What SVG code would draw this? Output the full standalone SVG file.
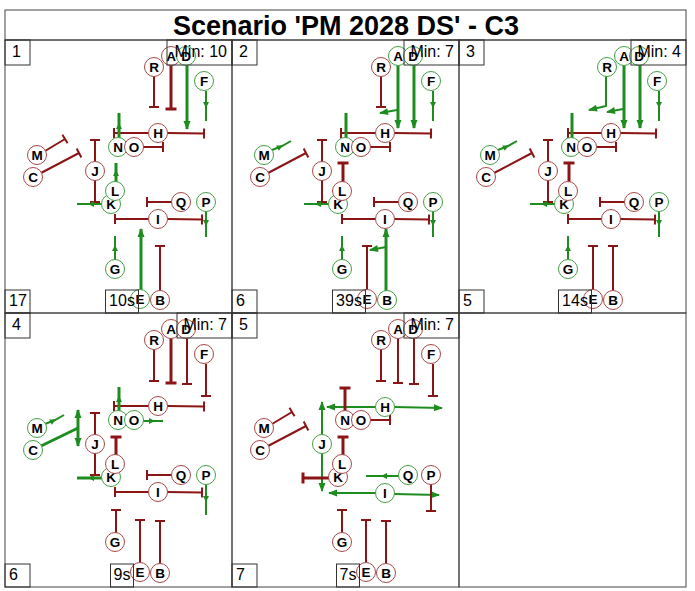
<svg xmlns="http://www.w3.org/2000/svg" width="695" height="591" viewBox="0 0 695 591">
<style>
text{font-family:"Liberation Sans",Arial,sans-serif}
.title{font-size:27px;font-weight:bold;text-anchor:middle;fill:#000}
.lbl{font-size:16px;fill:#000}
.frame{fill:none;stroke:#444;stroke-width:1}
.box{fill:none;stroke:#333;stroke-width:1}
.r{stroke:#8B1515;stroke-width:2;fill:none}
.g{stroke:#1E8C1E;stroke-width:2;fill:none}
.tk{stroke-width:3}
.tT{marker-end:url(#tT)}
.tK{marker-end:url(#tK)}
.ae{marker-end:url(#ae)}
.am{marker-mid:url(#am)}
.nd circle{r:9.5px}
.nr circle{fill:#fff;stroke:#A84848;stroke-width:1}
.ng circle{fill:#fff;stroke:#45A045;stroke-width:1}
.nd text{font-size:13.5px;font-weight:bold;text-anchor:middle;fill:#000}
</style>
<defs>
<marker id="tT" markerUnits="userSpaceOnUse" viewBox="-3 -6 6 12" markerWidth="6" markerHeight="12" refX="0" refY="0" orient="auto"><path d="M0,-5V5" stroke="#8B1515" stroke-width="2"/></marker>
<marker id="tK" markerUnits="userSpaceOnUse" viewBox="-3 -6 6 12" markerWidth="6" markerHeight="12" refX="0" refY="0" orient="auto"><path d="M0,-5.5V5.5" stroke="#8B1515" stroke-width="3"/></marker>
<marker id="ae" markerUnits="userSpaceOnUse" viewBox="-9 -5 10 10" markerWidth="10" markerHeight="10" refX="0" refY="0" orient="auto"><path d="M-8,-3.5L1,0L-8,3.5z" fill="#1E8C1E"/></marker>
<marker id="am" markerUnits="userSpaceOnUse" viewBox="-7 -4 8 8" markerWidth="8" markerHeight="8" refX="0" refY="0" orient="auto"><path d="M-5,-3L1,0L-5,3z" fill="#1E8C1E"/></marker>
</defs>

<g id="frames">
<rect class="frame" x="5" y="10" width="681" height="30"/>
<rect class="frame" x="5" y="40" width="227" height="273"/>
<rect class="frame" x="232" y="40" width="227" height="273"/>
<rect class="frame" x="459" y="40" width="227" height="273"/>
<rect class="frame" x="5" y="313" width="227" height="274"/>
<rect class="frame" x="232" y="313" width="227" height="274"/>
<rect class="frame" x="459" y="313" width="227" height="274"/>
</g>
<text class="title" x="346" y="35">Scenario 'PM 2028 DS' - C3</text>

<!-- PANEL 1 -->
<g id="panel1">
<g id="p1-edges">
<line class="r tT" x1="154" y1="76" x2="154" y2="107"/>
<line class="r tk tK" x1="171" y1="65" x2="171" y2="109"/>
<line class="g tk ae" x1="187" y1="65" x2="187" y2="129"/>
<polyline class="g am" points="206,91 206,107 206,121"/>
<line class="r tT" x1="149" y1="133" x2="114" y2="133"/>
<line class="r tT" x1="167" y1="133" x2="204" y2="133.5"/>
<polyline class="g tk am" points="119,138 119,124 119,113"/>
<line class="r tT" x1="143" y1="147" x2="163" y2="147"/>
<line class="r tT" x1="45" y1="151" x2="65" y2="139"/>
<line class="r tT" x1="41" y1="173" x2="79" y2="153"/>
<line class="r tT" x1="95" y1="162" x2="95" y2="140"/>
<line class="r tT" x1="95" y1="180" x2="95" y2="202"/>
<polyline class="g tk am" points="116,182 116,171 116,163"/>
<polyline class="g am" points="102,204 89,204 77,204"/>
<line class="r tT" x1="172" y1="202" x2="147" y2="202"/>
<line class="r tT" x1="149" y1="219" x2="115" y2="219"/>
<line class="r tT" x1="167" y1="219" x2="202" y2="219.5"/>
<polyline class="g am" points="206,211 206,225 206,237"/>
<polyline class="g am" points="115,260 115,246 115,236"/>
<line class="g tk ae" x1="141" y1="290" x2="141" y2="229"/>
<line class="r tT" x1="160" y1="291" x2="160" y2="246"/>
</g>
<g id="p1-R" class="nd nr"><circle cx="154" cy="67" r="9"/><text x="154" y="71.5">R</text></g>
<g id="p1-A" class="nd nr"><circle cx="171" cy="56" r="9"/><text x="171" y="60.5">A</text></g>
<g id="p1-D" class="nd ng"><circle cx="186" cy="56" r="9"/><text x="186" y="60.5">D</text></g>
<g id="p1-F" class="nd ng"><circle cx="204" cy="81" r="9"/><text x="204" y="85.5">F</text></g>
<g id="p1-H" class="nd nr"><circle cx="158" cy="133" r="9"/><text x="158" y="137.5">H</text></g>
<g id="p1-N" class="nd ng"><circle cx="118" cy="147" r="9"/><text x="118" y="151.5">N</text></g>
<g id="p1-O" class="nd nr"><circle cx="134" cy="147" r="9"/><text x="134" y="151.5">O</text></g>
<g id="p1-M" class="nd nr"><circle cx="37" cy="155" r="9"/><text x="37" y="159.5">M</text></g>
<g id="p1-C" class="nd nr"><circle cx="33" cy="177" r="9"/><text x="33" y="181.5">C</text></g>
<g id="p1-J" class="nd nr"><circle cx="95" cy="171" r="9"/><text x="95" y="175.5">J</text></g>
<g id="p1-K" class="nd ng"><circle cx="111" cy="204" r="9"/><text x="111" y="208.5">K</text></g>
<g id="p1-L" class="nd ng"><circle cx="115" cy="191" r="9"/><text x="115" y="195.5">L</text></g>
<g id="p1-Q" class="nd nr"><circle cx="181" cy="202" r="9"/><text x="181" y="206.5">Q</text></g>
<g id="p1-P" class="nd ng"><circle cx="206" cy="202" r="9"/><text x="206" y="206.5">P</text></g>
<g id="p1-I" class="nd nr"><circle cx="158" cy="219" r="9"/><text x="158" y="223.5">I</text></g>
<g id="p1-G" class="nd ng"><circle cx="115" cy="269" r="9"/><text x="115" y="273.5">G</text></g>
<g id="p1-E" class="nd ng"><circle cx="140" cy="299" r="9"/><text x="140" y="303.5">E</text></g>
<g id="p1-B" class="nd nr"><circle cx="160" cy="300" r="9"/><text x="160" y="304.5">B</text></g>
<g id="p1-labels">
<rect class="box" x="5" y="40" width="25" height="25"/><text class="lbl" x="12" y="57">1</text>
<rect class="box" x="167" y="40" width="65" height="25"/><text class="lbl" x="227" y="57" text-anchor="end">Min: 10</text>
<rect class="box" x="5" y="290" width="25" height="23"/><text class="lbl" x="9" y="306">17</text>
<rect class="box" x="105.5" y="290" width="33" height="23"/><text class="lbl" x="122" y="306" text-anchor="middle">10s</text>
</g>
</g>

<!-- PANEL 2 -->
<g id="panel2" transform="translate(227,0)">
<g id="p2-edges">
<line class="r tT" x1="154" y1="76" x2="154" y2="107"/>
<line class="g tk ae" x1="171" y1="65" x2="171" y2="128"/>
<line class="g ae" x1="170" y1="110" x2="153" y2="113"/>
<line class="g tk ae" x1="187" y1="65" x2="187" y2="128"/>
<polyline class="g am" points="206,91 206,107 206,121"/>
<line class="r tT" x1="149" y1="133" x2="114" y2="133"/>
<line class="r tT" x1="167" y1="133" x2="204" y2="133.5"/>
<line class="g tk" x1="119" y1="138" x2="119" y2="113"/>
<line class="r tT" x1="143" y1="147" x2="163" y2="147"/>
<polyline class="g am" points="45,150 55,146 64,141"/>
<line class="r tT" x1="41" y1="173" x2="79" y2="153"/>
<line class="r tT" x1="95" y1="162" x2="95" y2="140"/>
<line class="r tT" x1="95" y1="180" x2="95" y2="202"/>
<line class="r tk tK" x1="116" y1="182" x2="116" y2="163"/>
<polyline class="g am" points="102,204 89,204 77,204"/>
<line class="r tT" x1="172" y1="202" x2="147" y2="202"/>
<line class="r tT" x1="149" y1="219" x2="115" y2="219"/>
<line class="r tT" x1="167" y1="219" x2="202" y2="219.5"/>
<polyline class="g am" points="206,211 206,225 206,237"/>
<polyline class="g am" points="115,260 115,246 115,236"/>
<line class="r tT" x1="140" y1="290" x2="140" y2="246"/>
<line class="g tk ae" x1="159" y1="291" x2="159" y2="229"/>
<line class="g ae" x1="159" y1="247" x2="143" y2="250"/>
</g>
<g id="p2-R" class="nd nr"><circle cx="154" cy="67" r="9"/><text x="154" y="71.5">R</text></g>
<g id="p2-A" class="nd ng"><circle cx="171" cy="56" r="9"/><text x="171" y="60.5">A</text></g>
<g id="p2-D" class="nd ng"><circle cx="186" cy="56" r="9"/><text x="186" y="60.5">D</text></g>
<g id="p2-F" class="nd ng"><circle cx="204" cy="81" r="9"/><text x="204" y="85.5">F</text></g>
<g id="p2-H" class="nd nr"><circle cx="158" cy="133" r="9"/><text x="158" y="137.5">H</text></g>
<g id="p2-N" class="nd ng"><circle cx="118" cy="147" r="9"/><text x="118" y="151.5">N</text></g>
<g id="p2-O" class="nd nr"><circle cx="134" cy="147" r="9"/><text x="134" y="151.5">O</text></g>
<g id="p2-M" class="nd ng"><circle cx="37" cy="155" r="9"/><text x="37" y="159.5">M</text></g>
<g id="p2-C" class="nd nr"><circle cx="33" cy="177" r="9"/><text x="33" y="181.5">C</text></g>
<g id="p2-J" class="nd nr"><circle cx="95" cy="171" r="9"/><text x="95" y="175.5">J</text></g>
<g id="p2-K" class="nd ng"><circle cx="111" cy="204" r="9"/><text x="111" y="208.5">K</text></g>
<g id="p2-L" class="nd nr"><circle cx="115" cy="191" r="9"/><text x="115" y="195.5">L</text></g>
<g id="p2-Q" class="nd nr"><circle cx="181" cy="202" r="9"/><text x="181" y="206.5">Q</text></g>
<g id="p2-P" class="nd ng"><circle cx="206" cy="202" r="9"/><text x="206" y="206.5">P</text></g>
<g id="p2-I" class="nd nr"><circle cx="158" cy="219" r="9"/><text x="158" y="223.5">I</text></g>
<g id="p2-G" class="nd ng"><circle cx="115" cy="269" r="9"/><text x="115" y="273.5">G</text></g>
<g id="p2-E" class="nd nr"><circle cx="140" cy="299" r="9"/><text x="140" y="303.5">E</text></g>
<g id="p2-B" class="nd ng"><circle cx="160" cy="300" r="9"/><text x="160" y="304.5">B</text></g>
<g id="p2-labels">
<rect class="box" x="5" y="40" width="25" height="25"/><text class="lbl" x="12" y="57">2</text>
<rect class="box" x="177" y="40" width="55" height="25"/><text class="lbl" x="227" y="57" text-anchor="end">Min: 7</text>
<rect class="box" x="5" y="290" width="25" height="23"/><text class="lbl" x="9" y="306">6</text>
<rect class="box" x="105.5" y="290" width="33" height="23"/><text class="lbl" x="122" y="306" text-anchor="middle">39s</text>
</g>
</g>

<!-- PANEL 3 -->
<g id="panel3" transform="translate(454,0)">
<g id="p3-edges">
<polyline class="g ae" points="152,76 152,106 135,110"/>
<line class="g tk ae" x1="170" y1="65" x2="170" y2="128"/>
<line class="g ae" x1="169" y1="109" x2="153" y2="112"/>
<line class="g tk ae" x1="186" y1="65" x2="186" y2="128"/>
<polyline class="g am" points="205,91 205,107 205,121"/>
<line class="r tT" x1="149" y1="133" x2="114" y2="133"/>
<line class="r tT" x1="167" y1="133" x2="202" y2="133.5"/>
<line class="g tk" x1="118" y1="138" x2="118" y2="113"/>
<line class="r tT" x1="143" y1="147" x2="162" y2="147"/>
<polyline class="g am" points="44,150 54,146 63,141"/>
<line class="r tT" x1="40" y1="173" x2="78" y2="153"/>
<line class="r tT" x1="94" y1="162" x2="94" y2="140"/>
<line class="r tT" x1="94" y1="180" x2="94" y2="202"/>
<line class="r tk tK" x1="115" y1="182" x2="115" y2="163"/>
<polyline class="g am" points="101,204 88,204 76,204"/>
<line class="r tT" x1="171" y1="202" x2="146" y2="202"/>
<line class="r tT" x1="148" y1="219" x2="114" y2="219"/>
<line class="r tT" x1="166" y1="219" x2="201" y2="219.5"/>
<polyline class="g am" points="205,211 205,225 205,237"/>
<polyline class="g am" points="114,260 114,246 114,236"/>
<line class="r tT" x1="139" y1="290" x2="139" y2="246"/>
<line class="r tT" x1="159" y1="291" x2="159" y2="246"/>
</g>
<g id="p3-R" class="nd ng"><circle cx="153" cy="67" r="9"/><text x="153" y="71.5">R</text></g>
<g id="p3-A" class="nd ng"><circle cx="170" cy="56" r="9"/><text x="170" y="60.5">A</text></g>
<g id="p3-D" class="nd ng"><circle cx="185" cy="56" r="9"/><text x="185" y="60.5">D</text></g>
<g id="p3-F" class="nd ng"><circle cx="203" cy="81" r="9"/><text x="203" y="85.5">F</text></g>
<g id="p3-H" class="nd nr"><circle cx="157" cy="133" r="9"/><text x="157" y="137.5">H</text></g>
<g id="p3-N" class="nd ng"><circle cx="117" cy="147" r="9"/><text x="117" y="151.5">N</text></g>
<g id="p3-O" class="nd nr"><circle cx="133" cy="147" r="9"/><text x="133" y="151.5">O</text></g>
<g id="p3-M" class="nd ng"><circle cx="36" cy="155" r="9"/><text x="36" y="159.5">M</text></g>
<g id="p3-C" class="nd nr"><circle cx="32" cy="177" r="9"/><text x="32" y="181.5">C</text></g>
<g id="p3-J" class="nd nr"><circle cx="94" cy="171" r="9"/><text x="94" y="175.5">J</text></g>
<g id="p3-K" class="nd ng"><circle cx="110" cy="204" r="9"/><text x="110" y="208.5">K</text></g>
<g id="p3-L" class="nd nr"><circle cx="114" cy="191" r="9"/><text x="114" y="195.5">L</text></g>
<g id="p3-Q" class="nd nr"><circle cx="180" cy="202" r="9"/><text x="180" y="206.5">Q</text></g>
<g id="p3-P" class="nd ng"><circle cx="205" cy="202" r="9"/><text x="205" y="206.5">P</text></g>
<g id="p3-I" class="nd nr"><circle cx="157" cy="219" r="9"/><text x="157" y="223.5">I</text></g>
<g id="p3-G" class="nd ng"><circle cx="114" cy="269" r="9"/><text x="114" y="273.5">G</text></g>
<g id="p3-E" class="nd nr"><circle cx="139" cy="299" r="9"/><text x="139" y="303.5">E</text></g>
<g id="p3-B" class="nd nr"><circle cx="159" cy="300" r="9"/><text x="159" y="304.5">B</text></g>
<g id="p3-labels">
<rect class="box" x="5" y="40" width="25" height="25"/><text class="lbl" x="12" y="57">3</text>
<rect class="box" x="177" y="40" width="55" height="25"/><text class="lbl" x="227" y="57" text-anchor="end">Min: 4</text>
<rect class="box" x="5" y="290" width="25" height="23"/><text class="lbl" x="9" y="306">5</text>
<rect class="box" x="104.5" y="290" width="33" height="23"/><text class="lbl" x="121" y="306" text-anchor="middle">14s</text>
</g>
</g>

<!-- PANEL 4 -->
<g id="panel4" transform="translate(0,273)">
<g id="p4-edges">
<line class="r tT" x1="154" y1="76" x2="154" y2="108"/>
<line class="r tk tK" x1="171" y1="65" x2="171" y2="110"/>
<line class="r tT" x1="187" y1="65" x2="187" y2="111"/>
<line class="r tT" x1="206" y1="91" x2="206" y2="123"/>
<line class="r tT" x1="149" y1="133" x2="114" y2="133"/>
<line class="r tT" x1="167" y1="133" x2="204" y2="133.5"/>
<polyline class="g tk am" points="119,138 119,124 119,114"/>
<polyline class="g am" points="143,148 154,148 163,148"/>
<polyline class="g am" points="45,151 55,147 64,142"/>
<line class="g tk" x1="41" y1="173" x2="78" y2="155"/>
<line class="g tk ae" x1="78" y1="155" x2="78" y2="137"/>
<line class="g tk ae" x1="78" y1="155" x2="78" y2="173"/>
<line class="r tT" x1="95" y1="162" x2="95" y2="140"/>
<line class="r tT" x1="95" y1="180" x2="95" y2="202"/>
<line class="r tk tK" x1="116" y1="182" x2="116" y2="164"/>
<polyline class="g tk am" points="102,205 89,205 77,205"/>
<line class="r tT" x1="172" y1="202" x2="147" y2="202"/>
<line class="r tT" x1="149" y1="219" x2="115" y2="219"/>
<line class="r tT" x1="167" y1="219" x2="202" y2="219.5"/>
<polyline class="g am" points="206,211 206,228 206,242"/>
<line class="r tT" x1="116" y1="260" x2="116" y2="237"/>
<line class="r tT" x1="140" y1="290" x2="140" y2="247"/>
<line class="r tT" x1="160" y1="291" x2="160" y2="248"/>
</g>
<g id="p4-R" class="nd nr"><circle cx="154" cy="67" r="9"/><text x="154" y="71.5">R</text></g>
<g id="p4-A" class="nd nr"><circle cx="171" cy="56" r="9"/><text x="171" y="60.5">A</text></g>
<g id="p4-D" class="nd nr"><circle cx="186" cy="56" r="9"/><text x="186" y="60.5">D</text></g>
<g id="p4-F" class="nd nr"><circle cx="204" cy="81" r="9"/><text x="204" y="85.5">F</text></g>
<g id="p4-H" class="nd nr"><circle cx="158" cy="133" r="9"/><text x="158" y="137.5">H</text></g>
<g id="p4-N" class="nd ng"><circle cx="118" cy="147" r="9"/><text x="118" y="151.5">N</text></g>
<g id="p4-O" class="nd ng"><circle cx="134" cy="147" r="9"/><text x="134" y="151.5">O</text></g>
<g id="p4-M" class="nd ng"><circle cx="37" cy="155" r="9"/><text x="37" y="159.5">M</text></g>
<g id="p4-C" class="nd ng"><circle cx="33" cy="177" r="9"/><text x="33" y="181.5">C</text></g>
<g id="p4-J" class="nd nr"><circle cx="95" cy="171" r="9"/><text x="95" y="175.5">J</text></g>
<g id="p4-K" class="nd ng"><circle cx="111" cy="204" r="9"/><text x="111" y="208.5">K</text></g>
<g id="p4-L" class="nd nr"><circle cx="115" cy="191" r="9"/><text x="115" y="195.5">L</text></g>
<g id="p4-Q" class="nd nr"><circle cx="181" cy="202" r="9"/><text x="181" y="206.5">Q</text></g>
<g id="p4-P" class="nd ng"><circle cx="206" cy="202" r="9"/><text x="206" y="206.5">P</text></g>
<g id="p4-I" class="nd nr"><circle cx="158" cy="219" r="9"/><text x="158" y="223.5">I</text></g>
<g id="p4-G" class="nd nr"><circle cx="115" cy="269" r="9"/><text x="115" y="273.5">G</text></g>
<g id="p4-E" class="nd nr"><circle cx="140" cy="299" r="9"/><text x="140" y="303.5">E</text></g>
<g id="p4-B" class="nd nr"><circle cx="160" cy="300" r="9"/><text x="160" y="304.5">B</text></g>
<g id="p4-labels">
<rect class="box" x="5" y="40" width="25" height="25"/><text class="lbl" x="12" y="57">4</text>
<rect class="box" x="177" y="40" width="55" height="25"/><text class="lbl" x="227" y="57" text-anchor="end">Min: 7</text>
<rect class="box" x="5" y="291" width="25" height="23"/><text class="lbl" x="9" y="307">6</text>
<rect class="box" x="110.5" y="291" width="23" height="23"/><text class="lbl" x="122" y="307" text-anchor="middle">9s</text>
</g>
</g>

<!-- PANEL 5 -->
<g id="panel5" transform="translate(227,273)">
<g id="p5-edges">
<line class="r tT" x1="154" y1="76" x2="154" y2="108"/>
<line class="r tT" x1="171" y1="65" x2="171" y2="110"/>
<line class="r tT" x1="187" y1="65" x2="187" y2="111"/>
<line class="r tT" x1="206" y1="91" x2="206" y2="123"/>
<line class="g ae" x1="149" y1="134" x2="100" y2="134"/>
<line class="g ae" x1="167" y1="134" x2="215" y2="135"/>
<line class="r tk tK" x1="118" y1="138" x2="118" y2="115"/>
<line class="r tT" x1="143" y1="147" x2="163" y2="147"/>
<line class="r tT" x1="45" y1="151" x2="65" y2="139"/>
<line class="r tT" x1="41" y1="173" x2="79" y2="153"/>
<line class="g ae" x1="95" y1="162" x2="95" y2="129"/>
<line class="g ae" x1="95" y1="180" x2="95" y2="218"/>
<line class="r tk tK" x1="116" y1="182" x2="116" y2="164"/>
<line class="r tk tK" x1="102" y1="205" x2="76" y2="205"/>
<polyline class="g am" points="172,203 155,203 139,203"/>
<line class="g ae" x1="149" y1="220" x2="102" y2="220"/>
<line class="g ae" x1="167" y1="221" x2="212" y2="222"/>
<line class="r tT" x1="204" y1="211" x2="204" y2="238"/>
<line class="r tT" x1="115" y1="260" x2="115" y2="237"/>
<line class="r tT" x1="139" y1="290" x2="139" y2="247"/>
<line class="r tT" x1="159" y1="291" x2="159" y2="248"/>
</g>
<g id="p5-R" class="nd nr"><circle cx="154" cy="67" r="9"/><text x="154" y="71.5">R</text></g>
<g id="p5-A" class="nd nr"><circle cx="171" cy="56" r="9"/><text x="171" y="60.5">A</text></g>
<g id="p5-D" class="nd nr"><circle cx="186" cy="56" r="9"/><text x="186" y="60.5">D</text></g>
<g id="p5-F" class="nd nr"><circle cx="204" cy="81" r="9"/><text x="204" y="85.5">F</text></g>
<g id="p5-H" class="nd ng"><circle cx="158" cy="134" r="9"/><text x="158" y="138.5">H</text></g>
<g id="p5-N" class="nd nr"><circle cx="118" cy="147" r="9"/><text x="118" y="151.5">N</text></g>
<g id="p5-O" class="nd nr"><circle cx="134" cy="147" r="9"/><text x="134" y="151.5">O</text></g>
<g id="p5-M" class="nd nr"><circle cx="37" cy="155" r="9"/><text x="37" y="159.5">M</text></g>
<g id="p5-C" class="nd nr"><circle cx="33" cy="177" r="9"/><text x="33" y="181.5">C</text></g>
<g id="p5-J" class="nd ng"><circle cx="95" cy="171" r="9"/><text x="95" y="175.5">J</text></g>
<g id="p5-K" class="nd nr"><circle cx="111" cy="204" r="9"/><text x="111" y="208.5">K</text></g>
<g id="p5-L" class="nd nr"><circle cx="115" cy="191" r="9"/><text x="115" y="195.5">L</text></g>
<g id="p5-Q" class="nd ng"><circle cx="181" cy="202" r="9"/><text x="181" y="206.5">Q</text></g>
<g id="p5-P" class="nd nr"><circle cx="204" cy="202" r="9"/><text x="204" y="206.5">P</text></g>
<g id="p5-I" class="nd ng"><circle cx="158" cy="220" r="9"/><text x="158" y="224.5">I</text></g>
<g id="p5-G" class="nd nr"><circle cx="115" cy="269" r="9"/><text x="115" y="273.5">G</text></g>
<g id="p5-E" class="nd nr"><circle cx="139" cy="299" r="9"/><text x="139" y="303.5">E</text></g>
<g id="p5-B" class="nd nr"><circle cx="159" cy="300" r="9"/><text x="159" y="304.5">B</text></g>
<g id="p5-labels">
<rect class="box" x="5" y="40" width="25" height="25"/><text class="lbl" x="12" y="57">5</text>
<rect class="box" x="177" y="40" width="55" height="25"/><text class="lbl" x="227" y="57" text-anchor="end">Min: 7</text>
<rect class="box" x="5" y="291" width="25" height="23"/><text class="lbl" x="9" y="307">7</text>
<rect class="box" x="109.5" y="291" width="23" height="23"/><text class="lbl" x="121" y="307" text-anchor="middle">7s</text>
</g>
</g>
</svg>
